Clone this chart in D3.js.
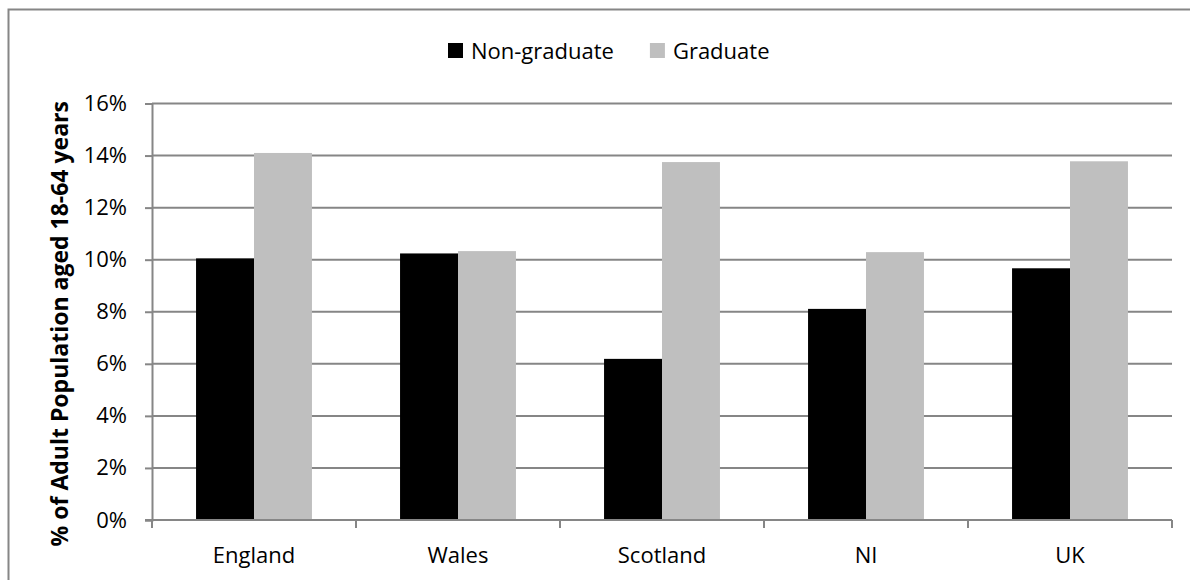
<!DOCTYPE html>
<html>
<head>
<meta charset="utf-8">
<script src="https://cdn.jsdelivr.net/npm/d3@7"></script>
<style>
  html, body { margin: 0; padding: 0; background: #fff; }
  svg { display: block; font-family: "Open Sans", sans-serif; }
</style>
</head>
<body>
<svg id="chart" width="1190" height="580"></svg>
<script>
const categories = ["England", "Wales", "Scotland", "NI", "UK"];
const seriesNames = ["Non-graduate", "Graduate"];
const nonGraduate = [10.05, 10.24, 6.19, 8.11, 9.67];
const graduate = [14.1, 10.33, 13.75, 10.29, 13.78];
const yTickValues = [0, 2, 4, 6, 8, 10, 12, 14, 16];
const yTitle = "% of Adult Population aged 18-64 years";
const colors = ["#000000", "#bfbfbf"];

const svg = d3.select("#chart");
const plot = { left: 152, right: 1172, top: 103.5, bottom: 520 };
const axisColor = "#868686";

// outer chart border
svg.append("rect")
  .attr("x", 8.5).attr("y", 9.5)
  .attr("width", 1200).attr("height", 600)
  .attr("fill", "#fff").attr("stroke", axisColor).attr("stroke-width", 2);

const x0 = d3.scaleBand().domain(categories).range([plot.left, plot.right]).padding(0);
const x1 = d3.scaleBand().domain(seriesNames).range([0, x0.bandwidth()])
  .paddingInner(0).paddingOuter(0.76);
const y = d3.scaleLinear().domain([0, 16]).range([plot.bottom, plot.top]);

// gridlines
svg.append("g").selectAll("line").data(yTickValues.filter(d => d > 0)).join("line")
  .attr("x1", plot.left).attr("x2", plot.right)
  .attr("y1", d => y(d)).attr("y2", d => y(d))
  .attr("stroke", axisColor).attr("stroke-width", 2);

// bars
const rows = categories.map((c, i) => ({ cat: c, vals: [nonGraduate[i], graduate[i]] }));
const groups = svg.append("g").selectAll("g").data(rows).join("g")
  .attr("transform", d => `translate(${x0(d.cat)},0)`);
groups.selectAll("rect").data(d => d.vals.map((v, j) => ({ s: seriesNames[j], v, j }))).join("rect")
  .attr("x", d => x1(d.s))
  .attr("width", x1.bandwidth())
  .attr("y", d => y(d.v))
  .attr("height", d => y(0) - y(d.v))
  .attr("fill", d => colors[d.j]);

// y axis
const yAxis = d3.axisLeft(y).tickValues(yTickValues).tickFormat(d => d + "%").tickSize(7).tickPadding(18);
const gy = svg.append("g").attr("transform", `translate(${plot.left},0)`).call(yAxis);
gy.select(".domain").attr("stroke", axisColor).attr("stroke-width", 2);
gy.selectAll(".tick line").attr("stroke", axisColor).attr("stroke-width", 2);
gy.selectAll(".tick text").attr("fill", "#000").style("font-size", "22px")
  .style("font-family", "'Open Sans', sans-serif");

// x axis with boundary ticks
const xAxis = d3.axisBottom(x0).tickSize(0).tickPadding(27);
const gx = svg.append("g").attr("transform", `translate(0,${plot.bottom})`).call(xAxis);
gx.select(".domain").remove();
gx.selectAll(".tick text").attr("fill", "#000").style("font-size", "22px")
  .style("font-family", "'Open Sans', sans-serif");
gx.append("line").attr("x1", plot.left - 7).attr("x2", plot.right)
  .attr("stroke", axisColor).attr("stroke-width", 2);
const bounds = categories.map(c => x0(c)).concat([x0(categories[categories.length - 1]) + x0.bandwidth()]);
gx.selectAll(".bnd").data(bounds).join("line").attr("class", "bnd")
  .attr("x1", d => d).attr("x2", d => d).attr("y1", 0).attr("y2", 8)
  .attr("stroke", axisColor).attr("stroke-width", 2);

// y title
svg.append("text")
  .attr("transform", `translate(68,${(plot.top + plot.bottom) / 2 + 12}) rotate(-90)`)
  .attr("text-anchor", "middle")
  .style("font-size", "23px").style("font-weight", "bold")
  .text(yTitle);

// legend
const leg = svg.append("g");
let lx = 448;
seriesNames.forEach((s, i) => {
  leg.append("rect").attr("x", lx).attr("y", 43).attr("width", 15).attr("height", 15).attr("fill", colors[i]);
  const t = leg.append("text").attr("x", lx + 23).attr("y", 58.5).style("font-size", "22px").text(s);
  lx = lx + 23 + t.node().getComputedTextLength() + 36;
});
</script>
</body>
</html>
